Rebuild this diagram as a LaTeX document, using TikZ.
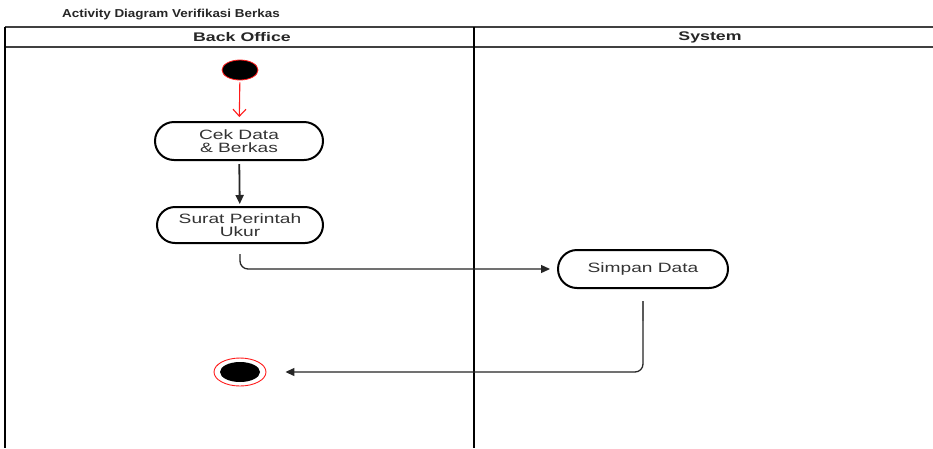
\documentclass[tikz,border=0pt]{standalone}
\usepackage{fontspec}
\setmainfont{Liberation Sans}
\newfontfamily\labelfont[FakeStretch=1.42]{Liberation Sans}
\newfontfamily\titlefont[FakeStretch=1.17]{Liberation Sans}
\usetikzlibrary{shapes.misc,shapes.geometric,arrows.meta}
\definecolor{txtgrey}{HTML}{333333}
\definecolor{startred}{HTML}{FF1A1A}
\tikzset{
  lane/.style={line width=1.5pt, draw=black!75},
  action/.style={rounded rectangle, draw=black, line width=2pt, fill=white,
    inner sep=0pt, text=txtgrey, align=center,
    font=\labelfont\fontsize{13.5}{13}\selectfont},
  initial/.style={ellipse, draw=startred, line width=0.8pt, fill=black,
    minimum width=36pt, minimum height=20pt, inner sep=0pt},
  flow/.style={draw=black!85, line width=1.3pt, -{Triangle[length=9pt,width=8pt]}},
  lanehead/.style={font=\labelfont\bfseries\fontsize{12.5}{13}\selectfont, text=black!85}
}
\begin{document}
\begin{tikzpicture}[x=1pt,y=-1pt]
  \useasboundingbox (0,0) rectangle (933,448);
  \fill[white] (0,0) rectangle (933,448);

  % title
  \node[anchor=west, inner sep=0pt, font=\titlefont\bfseries\fontsize{11.5}{12}\selectfont, text=black!85]
    (title) at (62,15) {Activity Diagram Verifikasi Berkas};

  % swimlanes
  \draw[lane] (5,27) -- (933,27);
  \draw[lane] (5,47) -- (933,47);
  \draw[line width=2pt] (5,27) -- (5,448);
  \draw[line width=1.7pt] (474,27) -- (474,448);
  \node[lanehead] (laneA) at (242,37.5) {Back Office};
  \node[lanehead] (laneB) at (710,37.5) {System};

  % nodes
  \node[initial] (start) at (240,70) {};
  \node[action, minimum width=168pt, minimum height=38pt] (cek) at (239,141)
    {Cek Data\\ \& Berkas};
  \node[action, minimum width=166pt, minimum height=36pt] (surat) at (240,225)
    {Surat Perintah\\ Ukur};
  \node[action, minimum width=170pt, minimum height=38pt] (simpan) at (643,269)
    {Simpan Data};
  \node[ellipse, draw=startred, line width=0.9pt, fill=white,
        minimum width=52pt, minimum height=28pt, inner sep=0pt] (final) at (240,372) {};
  \node[ellipse, fill=black, minimum width=40pt, minimum height=20pt, inner sep=0pt]
    (finaldot) at (final) {};

  % connectors
  \draw[draw=startred, line width=1.1pt, -{Straight Barb[length=7pt,width=13pt]},
        shorten <=2pt, shorten >=4pt] (start) -- (cek);
  \draw[flow, line width=1.8pt, shorten <=3pt, shorten >=2pt] (cek) -- (surat);
  \draw[flow, rounded corners=8pt, shorten <=10pt, shorten >=7pt]
    (surat.south) |- (simpan.west);
  \draw[flow, rounded corners=8pt, shorten <=12pt, shorten >=19pt]
    (simpan.south) |- (final.east);
  % heavier stub where the lower flow leaves the action
  \draw[draw=black!65, line width=2.4pt] ([yshift=-12pt]simpan.south) -- ([yshift=-32pt]simpan.south);
\end{tikzpicture}
\end{document}
